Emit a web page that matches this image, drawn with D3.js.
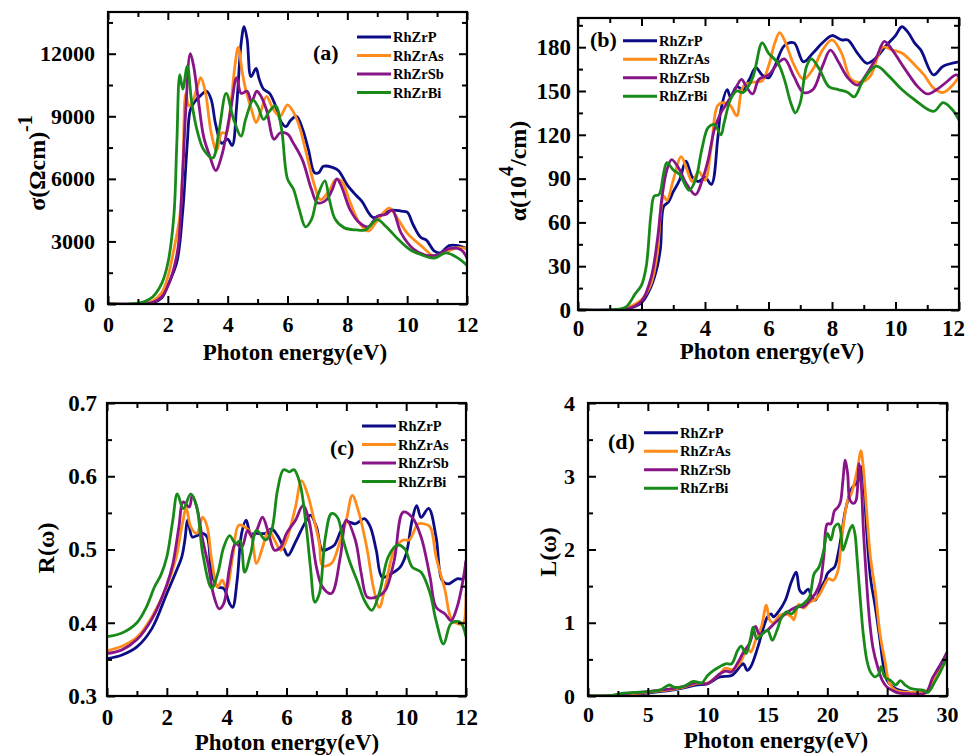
<!DOCTYPE html>
<html>
<head>
<meta charset="utf-8">
<script src="https://cdn.jsdelivr.net/npm/d3@7"></script>
<style>
  body { margin: 0; background: #fff; }
  svg { display: block; }
  text { font-family: "Liberation Serif", "Times New Roman", serif; font-weight: bold; }
</style>
</head>
<body>
<div id="chart"></div>
<script>
// series names and colours
const compounds = ["RhZrP", "RhZrAs", "RhZrSb", "RhZrBi"];
const colors = ["#0c0c86", "#ff8c1a", "#881488", "#198a19"];

// (a) optical conductivity, [energy eV, sigma]
const sigmaP = [[0,0],[1,0],[1.5,60],[1.8,300],[2.0,900],[2.3,2000],[2.5,4500],[2.65,7700],[2.75,9300],[2.9,9700],[3.1,10000],[3.3,10200],[3.45,9800],[3.6,8600],[3.8,7700],[4.0,7900],[4.15,7600],[4.3,9500],[4.45,12500],[4.55,13300],[4.65,12700],[4.78,10900],[4.95,11300],[5.05,10800],[5.2,10300],[5.4,10100],[5.6,9500],[5.8,8700],[5.95,8500],[6.1,8800],[6.3,9000],[6.5,8400],[6.7,7400],[6.9,6300],[7.05,6300],[7.2,6600],[7.5,6550],[7.7,6400],[8.0,5700],[8.3,5200],[8.5,4900],[8.7,4400],[8.85,4150],[9.1,4250],[9.5,4500],[9.8,4450],[10.0,4400],[10.2,3800],[10.45,3200],[10.65,3050],[10.9,2550],[11.1,2450],[11.4,2800],[11.7,2800],[12,2650]];
const sigmaAs = [[0,0],[1,0],[1.5,150],[1.8,550],[2.0,1300],[2.2,2600],[2.4,4200],[2.5,6500],[2.6,10100],[2.7,9500],[2.85,9800],[3.0,10500],[3.1,10850],[3.25,10200],[3.45,8200],[3.63,7350],[3.8,8200],[3.95,8200],[4.1,9500],[4.25,11500],[4.35,12300],[4.5,11000],[4.6,10300],[4.8,9300],[4.95,8700],[5.1,9200],[5.3,9950],[5.5,9400],[5.75,9000],[6.0,9550],[6.2,9200],[6.4,8500],[6.6,7400],[6.9,5700],[7.1,5000],[7.4,5450],[7.6,5950],[7.8,5900],[8.1,4850],[8.4,3900],[8.7,3500],[9.0,4000],[9.4,4600],[9.7,4050],[10.0,3400],[10.5,2750],[10.9,2300],[11.3,2500],[11.7,2700],[12,2650]];
const sigmaSb = [[0,0],[1,0],[1.5,80],[1.8,350],[2.0,850],[2.2,1700],[2.35,2800],[2.5,6400],[2.6,9300],[2.75,12000],[2.85,11500],[3.0,10000],[3.2,8000],[3.4,7100],[3.6,6400],[3.8,7100],[4.1,9300],[4.3,10850],[4.45,10100],[4.65,10200],[4.8,9700],[4.97,10200],[5.1,10000],[5.3,9300],[5.55,7900],[5.75,8200],[6.0,8150],[6.2,7700],[6.5,6900],[6.8,5500],[7.0,4850],[7.3,5000],[7.5,5500],[7.65,6000],[7.8,5650],[8.1,4500],[8.4,3900],[8.7,3700],[9.0,4200],[9.3,4300],[9.5,4500],[9.8,3400],[10.2,2650],[10.6,2350],[11.0,2350],[11.4,2650],[11.8,2600],[12,2200]];
const sigmaBi = [[0,0],[0.8,0],[1.2,100],[1.5,350],[1.8,1000],[2.0,1950],[2.2,4200],[2.3,7700],[2.4,11000],[2.5,10300],[2.65,11400],[2.8,9650],[3.0,8200],[3.2,7400],[3.5,7000],[3.7,8200],[3.95,10100],[4.2,8850],[4.45,8050],[4.6,8850],[4.85,9770],[5.0,9500],[5.2,8850],[5.4,9250],[5.6,9500],[5.8,8400],[6.0,6000],[6.2,5500],[6.4,4500],[6.6,3700],[6.8,4050],[7.0,5150],[7.25,5900],[7.4,5000],[7.6,4050],[7.9,3650],[8.3,3550],[8.6,3550],[9.0,4050],[9.3,3700],[9.7,3100],[10.1,2600],[10.5,2350],[10.9,2200],[11.3,2450],[11.7,2200],[12,1850]];

// (b) absorption coefficient, [energy eV, alpha 10^4/cm]
const alphaP = [[0,0],[1.2,0],[1.6,1],[2.0,5],[2.3,16],[2.5,30],[2.6,43],[2.7,71],[2.85,74],[3.0,81],[3.2,89],[3.4,102],[3.6,91],[3.8,88],[4.0,91],[4.2,86],[4.4,117],[4.5,137],[4.7,151],[4.8,146],[5.0,153],[5.2,151],[5.4,158],[5.6,166],[5.8,161],[6.0,159],[6.2,167],[6.5,181],[6.8,183],[7.1,170],[7.4,176],[7.7,183],[8.0,188],[8.3,185],[8.5,185],[8.8,176],[9.1,169],[9.4,173],[9.7,181],[10.0,188],[10.2,194],[10.4,190],[10.6,183],[10.8,178],[11.2,161],[11.5,167],[12,170]];
const alphaAs = [[0,0],[1.2,0],[1.6,2],[2.0,7],[2.3,18],[2.5,39],[2.6,66],[2.7,78],[2.8,75],[3.0,89],[3.25,105],[3.4,98],[3.6,88],[3.8,95],[4.0,89],[4.2,112],[4.4,140],[4.6,142],[4.8,140],[5.0,133],[5.2,153],[5.5,156],[5.8,157],[6.0,167],[6.2,183],[6.35,190],[6.5,185],[6.8,168],[7.1,158],[7.4,165],[7.7,178],[8.0,185],[8.3,176],[8.6,158],[8.9,156],[9.2,160],[9.6,180],[9.9,178],[10.2,176],[10.6,168],[10.9,161],[11.2,152],[11.5,149],[11.8,154],[12,160]];
const alphaSb = [[0,0],[1.2,0],[1.6,1],[2.0,6],[2.3,22],[2.5,48],[2.65,78],[2.8,96],[2.95,103],[3.2,96],[3.4,87],[3.7,79],[3.9,88],[4.1,103],[4.3,124],[4.5,135],[4.7,142],[4.9,149],[5.15,158],[5.3,153],[5.5,148],[5.7,158],[6.0,161],[6.3,169],[6.5,172],[6.8,160],[7.1,149],[7.4,151],[7.7,167],[7.95,178],[8.2,170],[8.5,159],[8.8,154],[9.1,162],[9.4,173],[9.65,184],[9.9,178],[10.3,165],[10.7,153],[11.0,148],[11.3,151],[11.6,156],[11.9,161],[12,160]];
const alphaBi = [[0,0],[1.0,0],[1.5,2],[1.8,11],[2.0,17],[2.15,30],[2.3,66],[2.4,78],[2.55,79],[2.7,94],[2.8,101],[3.0,96],[3.2,93],[3.5,82],[3.7,89],[3.9,110],[4.1,125],[4.3,127],[4.5,120],[4.6,128],[4.8,144],[5.0,150],[5.2,149],[5.5,159],[5.8,183],[6.0,176],[6.3,169],[6.5,158],[6.7,142],[6.85,135],[7.0,142],[7.2,167],[7.35,172],[7.6,165],[7.9,153],[8.2,151],[8.5,149],[8.7,146],[9.0,158],[9.4,167],[9.8,160],[10.2,151],[10.6,144],[11.2,136],[11.5,142],[11.8,137],[12,130]];

// (c) reflectivity, [energy eV, R]
const reflP = [[0,0.351],[0.5,0.356],[1.0,0.367],[1.5,0.392],[2.0,0.44],[2.3,0.469],[2.5,0.49],[2.6,0.512],[2.7,0.54],[2.85,0.517],[3.0,0.519],[3.2,0.522],[3.35,0.517],[3.5,0.467],[3.7,0.449],[3.9,0.447],[4.1,0.426],[4.2,0.421],[4.35,0.458],[4.5,0.522],[4.65,0.54],[4.8,0.522],[5.0,0.522],[5.3,0.522],[5.5,0.528],[5.7,0.519],[5.9,0.503],[6.05,0.492],[6.3,0.51],[6.6,0.535],[6.8,0.547],[7.0,0.531],[7.2,0.499],[7.4,0.501],[7.6,0.506],[7.8,0.524],[8.0,0.538],[8.3,0.535],[8.6,0.542],[8.8,0.531],[9.0,0.499],[9.2,0.462],[9.5,0.467],[9.8,0.476],[10.0,0.494],[10.2,0.54],[10.35,0.56],[10.5,0.544],[10.75,0.556],[11.0,0.517],[11.2,0.458],[11.4,0.453],[11.7,0.46],[11.9,0.46],[12,0.483]];
const reflAs = [[0,0.362],[0.5,0.368],[1.0,0.38],[1.5,0.408],[2.0,0.45],[2.3,0.487],[2.5,0.531],[2.65,0.556],[2.8,0.531],[3.0,0.522],[3.2,0.544],[3.35,0.531],[3.5,0.485],[3.7,0.449],[3.85,0.458],[4.0,0.447],[4.2,0.49],[4.4,0.533],[4.6,0.531],[4.8,0.522],[5.0,0.481],[5.2,0.503],[5.4,0.526],[5.6,0.513],[5.8,0.499],[6.0,0.513],[6.3,0.558],[6.5,0.594],[6.7,0.576],[6.9,0.544],[7.1,0.508],[7.2,0.478],[7.5,0.481],[7.8,0.513],[8.0,0.54],[8.2,0.574],[8.4,0.553],[8.7,0.499],[8.9,0.449],[9.1,0.421],[9.3,0.449],[9.6,0.499],[9.9,0.513],[10.1,0.513],[10.4,0.535],[10.6,0.535],[10.8,0.531],[11.0,0.49],[11.3,0.444],[11.5,0.406],[11.7,0.399],[11.9,0.399],[12,0.44]];
const reflSb = [[0,0.358],[0.5,0.363],[1.0,0.377],[1.5,0.405],[2.0,0.452],[2.2,0.48],[2.4,0.53],[2.55,0.565],[2.75,0.558],[2.85,0.574],[3.0,0.558],[3.2,0.513],[3.4,0.476],[3.55,0.44],[3.75,0.419],[3.9,0.426],[4.1,0.476],[4.3,0.508],[4.5,0.503],[4.7,0.526],[4.85,0.517],[5.0,0.526],[5.2,0.544],[5.4,0.522],[5.6,0.499],[5.8,0.503],[6.0,0.522],[6.3,0.54],[6.55,0.56],[6.75,0.54],[7.0,0.476],[7.2,0.449],[7.5,0.44],[7.8,0.49],[8.0,0.54],[8.3,0.513],[8.5,0.467],[8.7,0.435],[9.0,0.435],[9.3,0.444],[9.6,0.485],[9.9,0.551],[10.2,0.544],[10.5,0.517],[10.8,0.462],[11.0,0.421],[11.3,0.412],[11.5,0.403],[11.7,0.421],[11.9,0.458],[12,0.485]];
const reflBi = [[0,0.381],[0.5,0.386],[1.0,0.4],[1.3,0.42],[1.6,0.45],[1.8,0.465],[2.0,0.49],[2.2,0.54],[2.35,0.576],[2.55,0.556],[2.8,0.576],[3.0,0.558],[3.2,0.494],[3.5,0.447],[3.7,0.467],[3.9,0.503],[4.1,0.519],[4.3,0.508],[4.45,0.512],[4.6,0.469],[4.8,0.494],[5.0,0.526],[5.3,0.513],[5.5,0.526],[5.7,0.581],[5.9,0.609],[6.1,0.606],[6.25,0.609],[6.45,0.59],[6.65,0.535],[6.8,0.476],[6.95,0.428],[7.1,0.44],[7.3,0.517],[7.5,0.549],[7.7,0.544],[7.9,0.512],[8.1,0.485],[8.4,0.453],[8.6,0.431],[8.85,0.417],[9.1,0.44],[9.4,0.49],[9.7,0.506],[9.95,0.501],[10.2,0.476],[10.5,0.469],[10.8,0.44],[11.0,0.403],[11.25,0.371],[11.5,0.399],[11.8,0.401],[12,0.381]];

// (d) energy loss, [energy eV, L]
const lossP = [[0,0],[2,0.005],[3,0.01],[5,0.04],[7,0.08],[8,0.11],[9,0.15],[10,0.17],[11,0.26],[12,0.28],[12.8,0.42],[13.0,0.44],[13.3,0.35],[13.6,0.4],[14.2,0.67],[14.6,0.9],[15.0,1.08],[15.3,1.12],[15.5,1.08],[16.0,1.17],[16.5,1.31],[17.0,1.56],[17.4,1.69],[17.7,1.44],[18.0,1.4],[18.4,1.46],[18.7,1.35],[19.0,1.31],[19.5,1.49],[19.8,1.58],[20.0,1.67],[20.3,1.72],[20.6,1.76],[20.9,1.94],[21.2,2.22],[21.5,2.53],[21.8,2.72],[22.1,2.85],[22.4,2.9],[22.7,2.99],[22.85,3.13],[23.0,2.99],[23.3,2.22],[23.6,1.62],[24.0,1.22],[24.4,0.76],[24.7,0.4],[25.0,0.21],[25.5,0.12],[26,0.08],[27,0.05],[28,0.05],[28.4,0.08],[29,0.3],[29.5,0.44],[30,0.58]];
const lossAs = [[0,0],[2,0.005],[3,0.02],[5,0.05],[7,0.09],[8,0.12],[9,0.17],[10,0.18],[11,0.3],[11.5,0.38],[12,0.36],[12.7,0.45],[13.3,0.65],[13.6,0.6],[14.0,0.76],[14.5,0.95],[14.9,1.24],[15.2,1.03],[15.5,1.0],[16.0,1.1],[16.5,1.12],[17.0,1.08],[17.2,1.04],[17.6,1.25],[18.0,1.2],[18.5,1.28],[19.0,1.32],[19.4,1.4],[19.8,1.53],[20.1,1.6],[20.5,1.58],[20.9,1.72],[21.1,1.99],[21.4,2.4],[21.7,2.67],[22.0,2.76],[22.3,2.94],[22.55,3.13],[22.8,3.35],[23.0,3.13],[23.3,2.49],[23.6,1.9],[24.0,1.44],[24.4,0.85],[24.8,0.49],[25.2,0.17],[25.7,0.08],[26.5,0.05],[27.5,0.05],[28.2,0.05],[28.8,0.2],[29.3,0.35],[29.7,0.42],[30,0.45]];
const lossSb = [[0,0],[2,0.005],[3,0.03],[5,0.06],[7,0.1],[8,0.13],[9,0.18],[10,0.17],[11,0.3],[11.5,0.34],[12,0.33],[12.5,0.45],[13.0,0.6],[13.5,0.72],[14.0,0.95],[14.3,0.85],[15.0,0.9],[15.5,0.98],[16.0,1.05],[16.5,1.12],[17.0,1.18],[17.5,1.22],[18.0,1.22],[18.5,1.3],[19.0,1.4],[19.4,1.55],[19.7,1.9],[20.0,2.35],[20.3,2.35],[20.6,2.53],[20.9,2.58],[21.1,2.65],[21.3,2.94],[21.5,3.22],[21.7,3.03],[21.9,2.67],[22.2,2.63],[22.4,2.67],[22.65,3.17],[22.85,2.85],[23.0,2.31],[23.2,1.76],[23.5,1.08],[23.8,0.67],[24.2,0.4],[24.6,0.21],[25.0,0.12],[25.5,0.07],[26,0.04],[27,0.03],[28,0.03],[28.3,0.05],[28.8,0.25],[29.3,0.38],[29.7,0.5],[30,0.6]];
const lossBi = [[0,0],[2,0.01],[3,0.04],[4,0.05],[5,0.06],[6,0.08],[6.8,0.15],[7.2,0.12],[8,0.13],[8.8,0.2],[9.5,0.18],[10,0.28],[10.5,0.35],[11,0.4],[11.5,0.44],[12,0.44],[12.5,0.62],[12.8,0.68],[13.2,0.58],[13.6,0.8],[13.8,0.94],[14.1,0.78],[14.6,0.85],[15.0,0.9],[15.4,0.76],[15.8,0.9],[16.2,1.08],[16.6,1.15],[17.0,1.12],[17.5,1.21],[18.0,1.26],[18.5,1.35],[18.9,1.67],[19.3,1.76],[19.7,1.99],[20.0,2.22],[20.3,2.13],[20.6,2.31],[20.9,2.35],[21.1,2.26],[21.3,1.99],[21.6,2.13],[21.9,2.28],[22.1,2.33],[22.3,2.22],[22.5,1.85],[22.8,1.22],[23.0,0.85],[23.3,0.49],[23.6,0.33],[24.0,0.26],[24.3,0.3],[24.5,0.4],[24.8,0.26],[25.3,0.21],[25.7,0.15],[26.1,0.21],[26.5,0.15],[27.0,0.1],[28.0,0.08],[28.4,0.05],[29.0,0.2],[29.5,0.35],[30,0.55]];

// tick values for each panel
const sigmaTicks = [0, 3000, 6000, 9000, 12000];
const alphaTicks = [0, 30, 60, 90, 120, 150, 180];
const reflTicks = [0.3, 0.4, 0.5, 0.6, 0.7];
const lossTicks = [0, 1, 2, 3, 4];
const energyTicks = [0, 2, 4, 6, 8, 10, 12];
const lossEnergyTicks = [0, 5, 10, 15, 20, 25, 30];

const svg = d3.select("#chart").append("svg").attr("width", 969).attr("height", 755);

const panels = [
  { box: { l: 108, r: 467, t: 12, b: 304 }, xDom: [0, 12], yDom: [0, 14000],
    xTicks: energyTicks, xMinor: d3.range(1, 12, 2), yTicks: sigmaTicks, yMinor: d3.range(1500, 14000, 3000),
    fmt: d3.format("d"), series: [sigmaP, sigmaAs, sigmaSb, sigmaBi], fs: 22, lastShift: 0,
    tag: "(a)", tagPos: [313, 60], leg: [357, 37],
    xLab: [295, 360], xTickY: 332, yLab: { x: 45, y: 163, main: "σ(Ωcm)", sup: "-1", after: "" }, yPad: 13 },
  { box: { l: 578, r: 959, t: 18, b: 310 }, xDom: [0, 12], yDom: [0, 200],
    xTicks: energyTicks, xMinor: d3.range(1, 12, 2), yTicks: alphaTicks, yMinor: d3.range(15, 200, 30),
    fmt: d3.format("d"), series: [alphaP, alphaAs, alphaSb, alphaBi], fs: 23, lastShift: -6,
    tag: "(b)", tagPos: [590, 47], leg: [623, 40.7],
    xLab: [772, 359], xTickY: 336, yLab: { x: 526, y: 171, main: "α(10", sup: "4", after: "/cm)" }, yPad: 7 },
  { box: { l: 107, r: 466, t: 403, b: 696 }, xDom: [0, 12], yDom: [0.3, 0.7],
    xTicks: energyTicks, xMinor: d3.range(1, 12, 2), yTicks: reflTicks, yMinor: [0.35, 0.45, 0.55, 0.65],
    fmt: d3.format(".1f"), series: [reflP, reflAs, reflSb, reflBi], fs: 23, lastShift: 0,
    tag: "(c)", tagPos: [330, 455], leg: [362, 426],
    xLab: [287, 750], xTickY: 725, yLab: { x: 54, y: 548, main: "R(ω)", sup: "", after: "" }, yPad: 10 },
  { box: { l: 588, r: 947, t: 403, b: 696 }, xDom: [0, 30], yDom: [0, 4],
    xTicks: lossEnergyTicks, xMinor: d3.range(2.5, 30, 5), yTicks: lossTicks, yMinor: [0.5, 1.5, 2.5, 3.5],
    fmt: d3.format("d"), series: [lossP, lossAs, lossSb, lossBi], fs: 22, lastShift: 0,
    tag: "(d)", tagPos: [608, 449], leg: [644, 432.7],
    xLab: [776, 748], xTickY: 722, yLab: { x: 556, y: 552, main: "L(ω)", sup: "", after: "" }, yPad: 13 }
];

const styleAxis = (g, size) => {
  g.select(".domain").remove();
  g.selectAll("line").attr("stroke", "#000").attr("stroke-width", 2);
  g.selectAll("text").attr("font-size", size).attr("fill", "#000")
    .attr("font-family", "Liberation Serif, Times New Roman, serif").attr("font-weight", "bold");
};

panels.forEach((p, pi) => {
  const { l, r, t, b } = p.box;
  const x = d3.scaleLinear().domain(p.xDom).range([l, r]);
  const y = d3.scaleLinear().domain(p.yDom).range([b, t]);
  const g = svg.append("g");

  const clipId = "clip" + pi;
  g.append("clipPath").attr("id", clipId).append("rect")
    .attr("x", l).attr("y", t).attr("width", r - l).attr("height", b - t);

  // lines
  const line = d3.line().x((d) => x(d[0])).y((d) => y(d[1])).curve(d3.curveCatmullRom.alpha(0.5));
  p.series.forEach((s, i) => {
    g.append("path").datum(s).attr("clip-path", `url(#${clipId})`)
      .attr("fill", "none").attr("stroke", colors[i]).attr("stroke-width", 2.8)
      .attr("stroke-linejoin", "round").attr("d", line);
  });

  // axes, ticks pointing inward
  const bottom = g.append("g").attr("transform", `translate(0,${b})`)
    .call(d3.axisBottom(x).tickValues(p.xTicks).tickSize(-8).tickPadding(p.xTickY - b - 16).tickFormat(d3.format("d")))
    .call((a) => styleAxis(a, p.fs));
  bottom.selectAll(".tick:last-of-type text").attr("dx", p.lastShift);
  g.append("g").attr("transform", `translate(0,${b})`)
    .call(d3.axisBottom(x).tickValues(p.xMinor).tickSize(-5).tickFormat(""))
    .call((a) => styleAxis(a, p.fs));
  g.append("g").attr("transform", `translate(0,${t})`)
    .call(d3.axisTop(x).tickValues(p.xTicks).tickSize(-8).tickFormat(""))
    .call((a) => styleAxis(a, p.fs));
  g.append("g").attr("transform", `translate(0,${t})`)
    .call(d3.axisTop(x).tickValues(p.xMinor).tickSize(-5).tickFormat(""))
    .call((a) => styleAxis(a, p.fs));
  g.append("g").attr("transform", `translate(${l},0)`)
    .call(d3.axisLeft(y).tickValues(p.yTicks).tickSize(-8).tickPadding(p.yPad).tickFormat(p.fmt))
    .call((a) => styleAxis(a, p.fs));
  g.append("g").attr("transform", `translate(${l},0)`)
    .call(d3.axisLeft(y).tickValues(p.yMinor).tickSize(-5).tickFormat(""))
    .call((a) => styleAxis(a, p.fs));
  g.append("g").attr("transform", `translate(${r},0)`)
    .call(d3.axisRight(y).tickValues(p.yTicks).tickSize(-8).tickFormat(""))
    .call((a) => styleAxis(a, p.fs));
  g.append("g").attr("transform", `translate(${r},0)`)
    .call(d3.axisRight(y).tickValues(p.yMinor).tickSize(-5).tickFormat(""))
    .call((a) => styleAxis(a, p.fs));

  // frame
  g.append("rect").attr("x", l).attr("y", t).attr("width", r - l).attr("height", b - t)
    .attr("fill", "none").attr("stroke", "#000").attr("stroke-width", 2.2);

  // axis titles
  g.append("text").attr("x", p.xLab[0]).attr("y", p.xLab[1]).attr("text-anchor", "middle")
    .attr("font-size", 23).text("Photon energy(eV)");
  const yt = g.append("text").attr("transform", `translate(${p.yLab.x},${p.yLab.y}) rotate(-90)`)
    .attr("text-anchor", "middle").attr("font-size", 24);
  yt.append("tspan").text(p.yLab.main);
  if (p.yLab.sup) {
    yt.append("tspan").attr("dy", -13).attr("font-size", 20).text(p.yLab.sup);
    if (p.yLab.after) yt.append("tspan").attr("dy", 13).text(p.yLab.after);
  }

  // panel tag and legend
  g.append("text").attr("x", p.tagPos[0]).attr("y", p.tagPos[1]).attr("font-size", 22).text(p.tag);
  compounds.forEach((c, i) => {
    const ly = p.leg[1] + i * 18.5;
    g.append("line").attr("x1", p.leg[0]).attr("x2", p.leg[0] + 34).attr("y1", ly).attr("y2", ly)
      .attr("stroke", colors[i]).attr("stroke-width", 3);
    g.append("text").attr("x", p.leg[0] + 36).attr("y", ly + 5).attr("font-size", 14.5).text(c);
  });
});
</script>
</body>
</html>
